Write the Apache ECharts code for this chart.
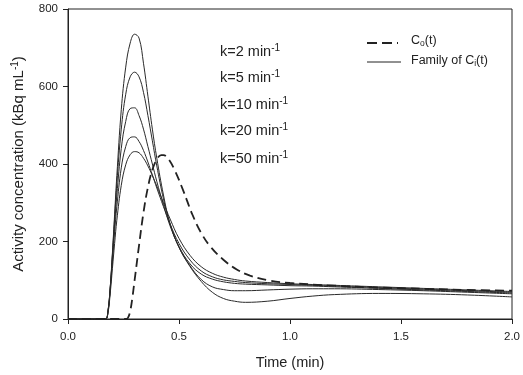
<!DOCTYPE html>
<html>
<head>
<meta charset="utf-8">
<script src="https://cdn.jsdelivr.net/npm/echarts@6/dist/echarts.min.js"></script>
<style>
  html, body { margin: 0; padding: 0; background: #fff; }
</style>
</head>
<body>
<div id="chart" style="width: 523px; height: 375px;"></div>
<script>
// time grid (min) for the family of tissue curves Ci(t)
var timeCi = [0, 0.15, 0.17, 0.18, 0.19, 0.2, 0.21, 0.22, 0.24, 0.26, 0.28, 0.3, 0.32, 0.34, 0.36, 0.38, 0.4, 0.43, 0.46, 0.5, 0.55, 0.6, 0.65, 0.7, 0.75, 0.8, 0.9, 1.0, 1.1, 1.2, 1.4, 1.6, 1.8, 2.0];
// five curves of the family (kBq/mL)
var ci1 = [0, 0, 0, 20, 80, 170, 270, 370, 540, 650, 712, 735, 725, 660, 575, 490, 415, 320, 245, 185, 135, 97, 69, 53, 46, 43, 46, 53, 59, 63, 66, 65, 62, 57];
var ci2 = [0, 0, 0, 20, 80, 165, 260, 350, 490, 580, 625, 637, 625, 585, 525, 460, 395, 310, 245, 185, 137, 102, 83, 76, 73, 73, 75, 77, 78, 78, 76, 73, 69, 65];
var ci3 = [0, 0, 0, 20, 78, 160, 245, 320, 440, 510, 543, 545, 525, 490, 445, 400, 355, 295, 240, 187, 142, 116, 103, 96, 92, 90, 88, 86, 85, 83, 79, 75, 71, 67];
var ci4 = [0, 0, 0, 18, 75, 150, 225, 290, 390, 445, 468, 470, 458, 435, 405, 372, 338, 290, 245, 195, 152, 124, 109, 101, 97, 94, 91, 89, 87, 85, 81, 77, 73, 69];
var ci5 = [0, 0, 0, 15, 65, 130, 195, 255, 345, 398, 424, 432, 429, 415, 395, 370, 343, 300, 258, 208, 164, 135, 118, 108, 102, 98, 94, 91, 89, 87, 83, 79, 75, 71];

// arterial input Co(t)
var timeCo = [0, 0.26, 0.27, 0.28, 0.29, 0.3, 0.32, 0.34, 0.36, 0.38, 0.4, 0.42, 0.43, 0.45, 0.48, 0.52, 0.56, 0.6, 0.64, 0.7, 0.76, 0.82, 0.9, 1.0, 1.2, 1.4, 1.6, 1.8, 2.0];
var co = [0, 0, 3, 20, 55, 100, 190, 275, 340, 385, 412, 423, 423, 415, 385, 330, 270, 222, 188, 153, 128, 112, 100, 93, 86, 81, 78, 75, 73];

var xTicks = [0, 0.5, 1.0, 1.5, 2.0];
var yTicks = [0, 200, 400, 600, 800];
var kLabels = ['2', '5', '10', '20', '50'];

var FONT = 'Liberation Sans, Arial, sans-serif';

function pairs(t, v) {
    var out = [];
    for (var i = 0; i < t.length; i++) {
        out.push([t[i], v[i]]);
    }
    return out;
}

var chart = echarts.init(document.getElementById('chart'));

var series = [ci1, ci2, ci3, ci4, ci5].map(function(v, i) {
    return {
        name: 'Ci' + (i + 1),
        type: 'line',
        data: pairs(timeCi, v),
        smooth: 0.4,
        showSymbol: false,
        lineStyle: { color: '#2a2a2a', width: 1 },
        z: 3
    };
});
series.push({
    name: 'Co',
    type: 'line',
    data: pairs(timeCo, co),
    smooth: 0.4,
    showSymbol: false,
    lineStyle: { color: '#222', width: 1.8, type: [9, 5] },
    z: 4
});

var graphics = [];
kLabels.forEach(function(k, i) {
    graphics.push({
        type: 'text',
        left: 220,
        top: [43, 69, 96, 122, 150][i],
        style: {
            text: '{a|k=' + k + ' min}{s|-1}',
            rich: {
                a: { fontSize: 14.5, fontFamily: FONT, fill: '#222', verticalAlign: 'bottom', lineHeight: 16 },
                s: { fontSize: 10, fontFamily: FONT, fill: '#222', verticalAlign: 'top', lineHeight: 16, padding: [0, 0, 8, 0] }
            }
        }
    });
});
// legend
graphics.push({
    type: 'line', shape: { x1: 367, y1: 43, x2: 398, y2: 43 },
    style: { stroke: '#222', lineWidth: 2.2, lineDash: [10, 5] }
});
graphics.push({
    type: 'line', shape: { x1: 367, y1: 62, x2: 401, y2: 62 },
    style: { stroke: '#222', lineWidth: 1 }
});
graphics.push({
    type: 'text', left: 411, top: 34,
    style: {
        text: '{a|C}{b|o}{a|(t)}',
        rich: {
            a: { fontSize: 12.5, fontFamily: FONT, fill: '#222' },
            b: { fontSize: 8.5, fontFamily: FONT, fill: '#222', padding: [6, 0, 0, 0] }
        }
    }
});
graphics.push({
    type: 'text', left: 411, top: 54,
    style: {
        text: '{a|Family of C}{b|i}{a|(t)}',
        rich: {
            a: { fontSize: 12.5, fontFamily: FONT, fill: '#222' },
            b: { fontSize: 8.5, fontFamily: FONT, fill: '#222', padding: [6, 0, 0, 0] }
        }
    }
});

var option = {
    animation: false,
    grid: {
        left: 68, right: 11, top: 9, bottom: 55,
        show: true, borderColor: '#222', borderWidth: 1
    },
    xAxis: {
        type: 'value',
        min: 0, max: 2, interval: 0.5,
        name: 'Time (min)',
        nameLocation: 'middle',
        nameGap: 36,
        nameTextStyle: { fontSize: 14.5, fontFamily: FONT, color: '#222' },
        axisLine: { show: true, onZero: false, lineStyle: { color: '#222', width: 1 } },
        axisTick: { show: true, length: 5, lineStyle: { color: '#222' } },
        axisLabel: {
            fontSize: 11.5, fontFamily: FONT, color: '#222', margin: 12,
            formatter: function(v) { return v.toFixed(1); }
        },
        splitLine: { show: false }
    },
    yAxis: {
        type: 'value',
        min: 0, max: 800, interval: 200,
        name: '{a|Activity concentration (kBq mL}{s|-1}{a|)}',
        nameLocation: 'middle',
        nameGap: 40,
        nameTextStyle: {
            rich: {
                a: { fontSize: 15, fontFamily: FONT, color: '#222' },
                s: { fontSize: 10, fontFamily: FONT, color: '#222', padding: [0, 0, 8, 0] }
            }
        },
        axisLine: { show: true, lineStyle: { color: '#222', width: 1 } },
        axisTick: { show: true, length: 5, lineStyle: { color: '#222' } },
        axisLabel: { fontSize: 11.5, fontFamily: FONT, color: '#222', margin: 10 },
        splitLine: { show: false }
    },
    graphic: graphics,
    series: series
};

chart.setOption(option);
</script>
</body>
</html>
